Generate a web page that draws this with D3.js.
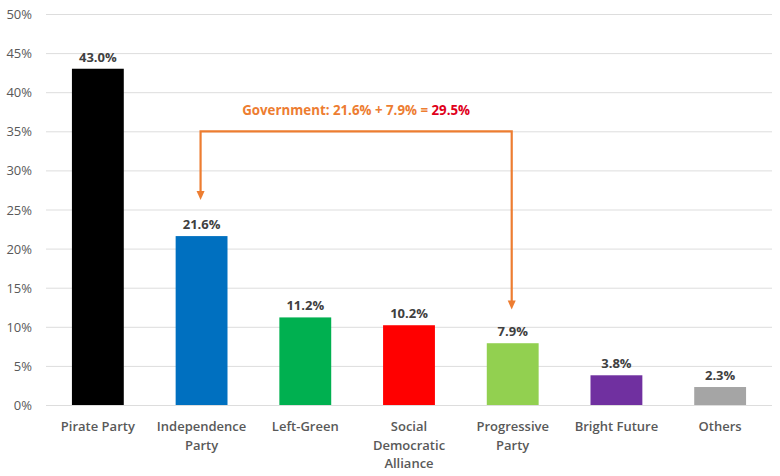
<!DOCTYPE html>
<html><head><meta charset="utf-8">
<script src="https://cdn.jsdelivr.net/npm/d3@7"></script>
<style>body{margin:0;background:#fff}svg{display:block}text{font-family:"Open Sans",sans-serif}</style>
</head><body><svg id="c" width="780" height="476"></svg>
<script>
const categories = [["Pirate Party"],["Independence","Party"],["Left-Green"],["Social","Democratic","Alliance"],["Progressive","Party"],["Bright Future"],["Others"]];
const values = [43.0, 21.6, 11.2, 10.2, 7.9, 3.8, 2.3];
const colors = ["#000000","#0070C0","#00B050","#FF0000","#92D050","#7030A0","#A5A5A5"];
const yTicks = [0,5,10,15,20,25,30,35,40,45,50];
const annotationText = "Government: 21.6% + 7.9% = ";
const annotationTotal = "29.5%";
const govFrom = 1, govTo = 4; // indices of government parties
const arrowLevel = 35, leftTip = 26.2, rightTip = 12.2, textLevel = 37.5;

const svg = d3.select("#c");
const names = categories.map(c => c.join(" "));
const x = d3.scaleBand().domain(names).range([46, 772]).paddingInner(0.5).paddingOuter(0.25);
const y = d3.scaleLinear().domain([0, 50]).range([405, 14]);

// grid
svg.append("g").selectAll("line").data(yTicks).join("line")
  .attr("x1", 46).attr("x2", 772)
  .attr("y1", d => y(d)+0.5).attr("y2", d => y(d)+0.5)
  .attr("stroke", "#DDDDDD").attr("stroke-width", 1);

// y axis labels
const yAxis = d3.axisLeft(y).tickValues(yTicks).tickFormat(d => d + "%").tickSize(0).tickPadding(0);
const ga = svg.append("g").attr("transform", "translate(32,0)").call(yAxis);
ga.select(".domain").remove();
ga.selectAll("text").attr("fill", "#595959").style("font-size", "13px").style("font-family", '"Open Sans",sans-serif').attr("dy", "0.35em");

// bars
svg.append("g").selectAll("rect").data(values).join("rect")
  .attr("x", (d,i) => x(names[i])).attr("width", x.bandwidth())
  .attr("y", d => y(d)).attr("height", d => y(0) - y(d))
  .attr("fill", (d,i) => colors[i]);

// value labels
svg.append("g").selectAll("text").data(values).join("text")
  .attr("x", (d,i) => x(names[i]) + x.bandwidth()/2)
  .attr("y", d => y(d) - 7)
  .attr("text-anchor", "middle").attr("fill", "#404040")
  .style("font-size", "13px").style("font-weight", "700")
  .text(d => d.toFixed(1) + "%");

// category labels
const cl = svg.append("g").selectAll("text").data(categories).join("text")
  .attr("x", (d,i) => x(names[i]) + x.bandwidth()/2)
  .attr("y", 431)
  .attr("text-anchor", "middle").attr("fill", "#595959")
  .style("font-size", "13px").style("font-weight", "600");
cl.each(function(d){
  const t = d3.select(this);
  d.forEach((line, k) => t.append("tspan").attr("x", t.attr("x")).attr("dy", k ? 18.5 : 0).text(line));
});

// annotation arrows
const orange = "#ED7D31";
const xl = x(names[govFrom]) + x.bandwidth()/2 - 1;
const xr = x(names[govTo]) + x.bandwidth()/2 - 1;
const ah = 8;
svg.append("path")
  .attr("d", `M${xl},${y(leftTip)-ah} V${y(arrowLevel)} H${xr} V${y(rightTip)-ah}`)
  .attr("fill", "none").attr("stroke", orange).attr("stroke-width", 2.2);
[[xl, leftTip],[xr, rightTip]].forEach(([px, v]) => {
  const ty = y(v);
  svg.append("path").attr("d", `M${px-4},${ty-ah-1} L${px+4},${ty-ah-1} L${px},${ty} Z`).attr("fill", orange);
});

// annotation text
const at = svg.append("text").attr("x", (xl + xr)/2).attr("y", y(textLevel) + 3.5)
  .attr("text-anchor", "middle").style("font-size", "13.3px").style("font-weight", "700");
at.append("tspan").attr("fill", orange).text(annotationText);
at.append("tspan").attr("fill", "#E0001B").text(annotationTotal);
</script></body></html>
